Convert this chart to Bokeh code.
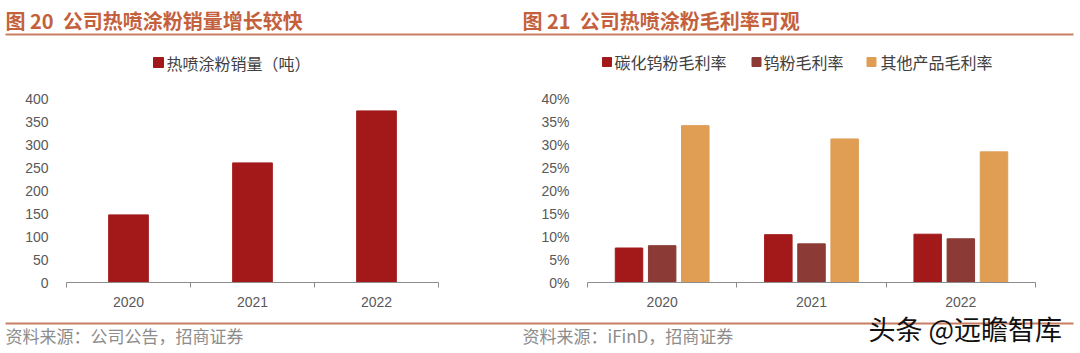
from bokeh.plotting import figure
from bokeh.layouts import row, column
from bokeh.models import Range1d, FixedTicker, NumeralTickFormatter
from bokeh.core.properties import value
from bokeh.embed import file_html
from bokeh.resources import INLINE

# ---- data ----
years = ["2020", "2021", "2022"]
sales_tons = [147, 260, 373]
wc_margin = [0.075, 0.104, 0.105]      # 碳化钨粉毛利率
w_margin = [0.080, 0.084, 0.095]       # 钨粉毛利率
other_margin = [0.341, 0.312, 0.284]   # 其他产品毛利率
sales_ticks = [0, 50, 100, 150, 200, 250, 300, 350, 400]
margin_ticks = [0.0, 0.05, 0.10, 0.15, 0.20, 0.25, 0.30, 0.35, 0.40]

title_left = "图 20\u00a0\u00a0公司热喷涂粉销量增长较快"
title_right = "图 21\u00a0\u00a0公司热喷涂粉毛利率可观"
legend_left = ["热喷涂粉销量（吨）"]
legend_right = ["碳化钨粉毛利率", "钨粉毛利率", "其他产品毛利率"]
source_left = "资料来源：公司公告，招商证券"
source_right = "资料来源：iFinD，招商证券"
watermark = "头条 @远瞻智库"

RED = "#A3191A"
BROWN = "#8B3A35"
ORANGE = "#DF9E53"
TITLE_C = "#C4613C"
LINE_C = "#C97E62"
AXIS_C = "#8C8C8C"
TICK_C = "#595959"
CJK = "Noto Sans CJK SC"
LAT = "Liberation Sans"

W = 1080
TOP_H = 88
MID_H = 221
BOT_H = 44

centers = [i + 0.5 for i in range(len(years))]
overrides = {c: y for c, y in zip(centers, years)}
bounds = [float(i) for i in range(len(years) + 1)]


def deco_fig(height):
    p = figure(width=W, height=height, x_range=Range1d(0, W), y_range=Range1d(height, 0),
               output_backend="svg", toolbar_location=None, title=None,
               x_axis_location=None, y_axis_location=None, min_border=0)
    p.outline_line_color = None
    p.xgrid.visible = False
    p.ygrid.visible = False
    return p


def txt(p, x, y, text, size, color, style="normal", font=CJK):
    p.text(x=[x], y=[y], text=[text], text_font=value(font), text_font_size=size,
           text_color=color, text_font_style=style, text_baseline="middle", text_align="left")


def base_fig(width, left, right, ymax, ticks):
    p = figure(width=width, height=MID_H, x_range=Range1d(0, len(years)), y_range=Range1d(0, ymax),
               output_backend="svg", toolbar_location=None, title=None,
               min_border_left=left, min_border_right=right, min_border_top=10, min_border_bottom=26)
    p.outline_line_color = None
    p.xgrid.visible = False
    p.ygrid.visible = False
    xa = p.xaxis[0]
    xa.ticker = FixedTicker(ticks=centers, minor_ticks=bounds)
    xa.major_label_overrides = overrides
    xa.major_tick_out = 0
    xa.major_tick_in = 0
    xa.minor_tick_out = 5
    xa.minor_tick_in = 0
    xa.minor_tick_line_color = AXIS_C
    xa.axis_line_color = AXIS_C
    xa.major_label_text_font = LAT
    xa.major_label_text_font_size = "14px"
    xa.major_label_text_color = TICK_C
    xa.major_label_standoff = 9
    ya = p.yaxis[0]
    ya.ticker = FixedTicker(ticks=ticks)
    ya.axis_line_color = None
    ya.major_tick_line_color = None
    ya.minor_tick_line_color = None
    ya.major_label_text_font = LAT
    ya.major_label_text_font_size = "14px"
    ya.major_label_text_color = TICK_C
    ya.major_label_standoff = 12
    return p


# ---- top decoration: titles, rule, legends ----
top = deco_fig(TOP_H)
txt(top, 5, 20, title_left, "20px", TITLE_C, style="bold")
txt(top, 522, 20, title_right, "20px", TITLE_C, style="bold")
top.segment(x0=[5], y0=[34], x1=[1073], y1=[34], line_color=LINE_C, line_width=2)
top.rect(x=[158], y=[62], width=10, height=10, color=RED)
txt(top, 166, 62, legend_left[0], "16px", "#404040")
for sx, tx, lab, col in zip([606.5, 756, 871], [614, 763, 880], legend_right, [RED, BROWN, ORANGE]):
    top.rect(x=[sx], y=[61.5], width=9, height=9, color=col)
    txt(top, tx, 61.5, lab, "16px", "#404040")

# ---- left chart ----
p1 = base_fig(520, 66, 82, 400, sales_ticks)
p1.vbar(x=centers, top=sales_tons, width=0.32, color=RED)

# ---- right chart ----
p2 = base_fig(560, 67, 45, 0.40, margin_ticks)
p2.yaxis[0].formatter = NumeralTickFormatter(format="0%")
off = 0.222
bw = 0.184
p2.vbar(x=[c - off for c in centers], top=wc_margin, width=bw, color=RED)
p2.vbar(x=centers, top=w_margin, width=bw, color=BROWN)
p2.vbar(x=[c + off for c in centers], top=other_margin, width=bw, color=ORANGE)

# ---- bottom decoration: rule, sources, watermark ----
bot = deco_fig(BOT_H)
bot.segment(x0=[5], y0=[14], x1=[1073], y1=[14], line_color=LINE_C, line_width=2)
txt(bot, 5, 26, source_left, "17px", "#8C8C8C")
txt(bot, 522, 26, source_right, "17px", "#8C8C8C")
txt(bot, 868, 19, watermark, "27px", "#111111")

layout = column(top, row(p1, p2), bot)
open("out.html", "w").write(file_html(layout, INLINE))
